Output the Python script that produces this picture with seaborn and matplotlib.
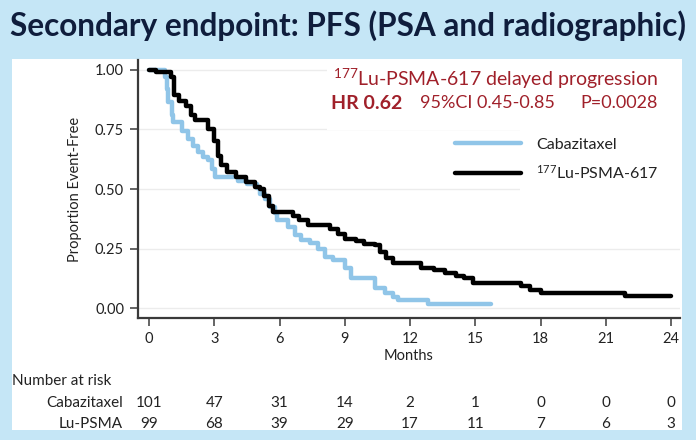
import numpy as np
import pandas as pd
import matplotlib
matplotlib.use("Agg")
import matplotlib.pyplot as plt
from matplotlib.patches import Rectangle
from matplotlib.transforms import blended_transform_factory
import seaborn as sns

# ---------------- data ----------------
months_ticks = [0, 3, 6, 9, 12, 15, 18, 21, 24]
y_ticks = [0.00, 0.25, 0.50, 0.75, 1.00]

cab_time = [0, 0.74, 0.81, 0.89, 1.04, 1.12, 1.5, 1.81, 2.04, 2.27, 2.5, 2.73, 2.88, 3.03,
            4.1, 4.5, 4.95, 5.1, 5.33, 5.56, 5.79, 5.87, 6.4, 6.7, 7.0, 7.4, 7.79, 8.1,
            8.47, 9.0, 9.3, 10.4, 10.85, 11.23, 11.46, 12.84, 15.7]
cab_surv = [1.0, 0.97, 0.92, 0.865, 0.81, 0.78, 0.745, 0.71, 0.68, 0.655, 0.635, 0.62, 0.585, 0.55,
            0.535, 0.52, 0.505, 0.48, 0.457, 0.426, 0.398, 0.37, 0.34, 0.307, 0.286, 0.275, 0.25, 0.216,
            0.2, 0.167, 0.125, 0.083, 0.062, 0.048, 0.034, 0.017, 0.017]

lu_time = [0, 0.3, 1.0, 1.15, 1.4, 1.7, 1.95, 2.1, 2.7, 3.0, 3.15, 3.3, 3.6, 4.0, 4.45, 4.85,
           5.1, 5.3, 5.5, 5.7, 6.6, 6.9, 7.3, 8.3, 8.7, 9.0, 9.5, 9.9, 10.4, 10.6, 10.9, 11.2,
           12.5, 13.1, 13.6, 14.1, 14.5, 14.9, 17.1, 17.5, 18.0, 21.9, 24.0]
lu_surv = [1.0, 0.99, 0.97, 0.895, 0.87, 0.85, 0.81, 0.79, 0.75, 0.70, 0.64, 0.60, 0.57, 0.55, 0.53, 0.51,
           0.50, 0.47, 0.43, 0.405, 0.385, 0.37, 0.35, 0.33, 0.31, 0.29, 0.28, 0.27, 0.265, 0.237, 0.21, 0.19,
           0.17, 0.16, 0.146, 0.134, 0.125, 0.106, 0.092, 0.076, 0.064, 0.05, 0.05]

arm_labels = ["Cabazitaxel", "$^{177}$Lu-PSMA-617"]
risk_labels = ["Cabazitaxel", "Lu-PSMA"]
risk_cab = [101, 47, 31, 14, 2, 1, 0, 0, 0]
risk_lu = [99, 68, 39, 29, 17, 11, 7, 6, 3]

title = "Secondary endpoint: PFS (PSA and radiographic)"
annot1 = "$^{177}$Lu-PSMA-617 delayed progression"
annot_hr = "HR 0.62"
annot_ci = "95%CI 0.45-0.85"
annot_p = "P=0.0028"

# ---------------- style ----------------
sns.set_theme(style="white")
FONT = "Lato"
plt.rcParams["font.family"] = [FONT, "DejaVu Sans"]
plt.rcParams["mathtext.fontset"] = "custom"
plt.rcParams["mathtext.rm"] = FONT
plt.rcParams["mathtext.it"] = FONT
plt.rcParams["mathtext.bf"] = FONT + ":bold"

BG = "#c5e6f6"
BLUE = "#90c5e8"
DARKRED = "#a0202a"
NAVY = "#0f1d3c"
GREY = "#3a3a3a"

W, H = 696, 440
fig = plt.figure(figsize=(W / 100, H / 100), dpi=100)
fig.patch.set_facecolor(BG)

def fx(px):
    return px / W

def fy(py):
    return 1 - py / H

fig.add_artist(Rectangle((fx(12), fy(430)), fx(682) - fx(12), fy(59) - fy(430),
                         transform=fig.transFigure, facecolor="white", edgecolor="none", zorder=0))

ax = fig.add_axes([fx(138), fy(318), fx(680) - fx(138), fy(60) - fy(318)])
ax.set_facecolor("white")

df = pd.concat([
    pd.DataFrame({"Months": cab_time, "S": cab_surv, "arm": arm_labels[0]}),
    pd.DataFrame({"Months": lu_time, "S": lu_surv, "arm": arm_labels[1]}),
], ignore_index=True)

sns.lineplot(data=df, x="Months", y="S", hue="arm", hue_order=arm_labels,
             palette=[BLUE, "black"], estimator=None, sort=False,
             drawstyle="steps-post", linewidth=3.2, ax=ax, legend=True)

ax.set_xlim(-0.506, 24.41)
ax.set_ylim(-0.042, 1.042)
ax.set_xticks(months_ticks)
ax.set_xticklabels([str(m) for m in months_ticks])
ax.set_yticks(y_ticks)
ax.set_yticklabels([f"{v:.2f}" for v in y_ticks])
ax.yaxis.grid(True, color="#ececec", linewidth=1.0)
ax.set_axisbelow(True)
for s in ["top", "right"]:
    ax.spines[s].set_visible(False)
for s in ["left", "bottom"]:
    ax.spines[s].set_color(GREY)
    ax.spines[s].set_linewidth(1.6)
ax.tick_params(axis="both", direction="out", length=6, width=1.1, color=GREY,
               labelsize=10.5, labelcolor="#222222", pad=4, left=True, bottom=True)
ax.set_xlabel("Months", fontsize=10.5, color="#222222", labelpad=2)
ax.set_ylabel("Proportion Event-Free", fontsize=10.5, color="#222222", labelpad=9)

# white box behind annotation
ax.add_patch(Rectangle((fx(327), fy(130)), fx(681) - fx(327), fy(60) - fy(130),
                       transform=fig.transFigure, facecolor="white", edgecolor="none", zorder=1.5))
ax.add_patch(Rectangle((fx(520), fy(200)), fx(681) - fx(520), fy(130) - fy(200),
                       transform=fig.transFigure, facecolor="white", edgecolor="none", zorder=1.5))

handles = ax.get_lines()[:2]
leg = ax.legend(handles=handles, labels=arm_labels, loc="upper left",
                bbox_to_anchor=(fx(449), fy(131)), bbox_transform=fig.transFigure,
                frameon=False, fontsize=11.5, handlelength=4.1, handletextpad=0.95,
                labelspacing=0.75, borderaxespad=0)
for t in leg.get_texts():
    t.set_color("#222222")
for l in leg.get_lines():
    l.set_linewidth(3.2)

fig.text(fx(333), fy(79), annot1, fontsize=14, color=DARKRED, va="center", ha="left")
fig.text(fx(331), fy(103), annot_hr, fontsize=14, color=DARKRED, va="center",
         ha="left", fontweight="bold")
fig.text(fx(420), fy(103), annot_ci, fontsize=13, color=DARKRED, va="center", ha="left")
fig.text(fx(658), fy(103), annot_p, fontsize=13, color=DARKRED, va="center", ha="right")

# title fitted to width
tt = fig.text(0.5, fy(26), title, fontsize=22, fontweight="bold", color=NAVY,
              ha="center", va="center")
r = fig.canvas.get_renderer()
w = tt.get_window_extent(r).width
tt.set_fontsize(22 * 676 / w)

# risk table
tr = blended_transform_factory(ax.transData, fig.transFigure)
fig.text(fx(12), fy(381), "Number at risk", fontsize=11, color="#222222", ha="left", va="center")
fig.text(fx(123), fy(403), risk_labels[0], fontsize=11, color="#222222", ha="right", va="center")
fig.text(fx(123), fy(424), risk_labels[1], fontsize=11, color="#222222", ha="right", va="center")
for m, a, b in zip(months_ticks, risk_cab, risk_lu):
    fig.text(m, fy(403), str(a), transform=tr, fontsize=11, color="#222222", ha="center", va="center")
    fig.text(m, fy(424), str(b), transform=tr, fontsize=11, color="#222222", ha="center", va="center")

fig.savefig("out.png", dpi=100, facecolor=BG)
